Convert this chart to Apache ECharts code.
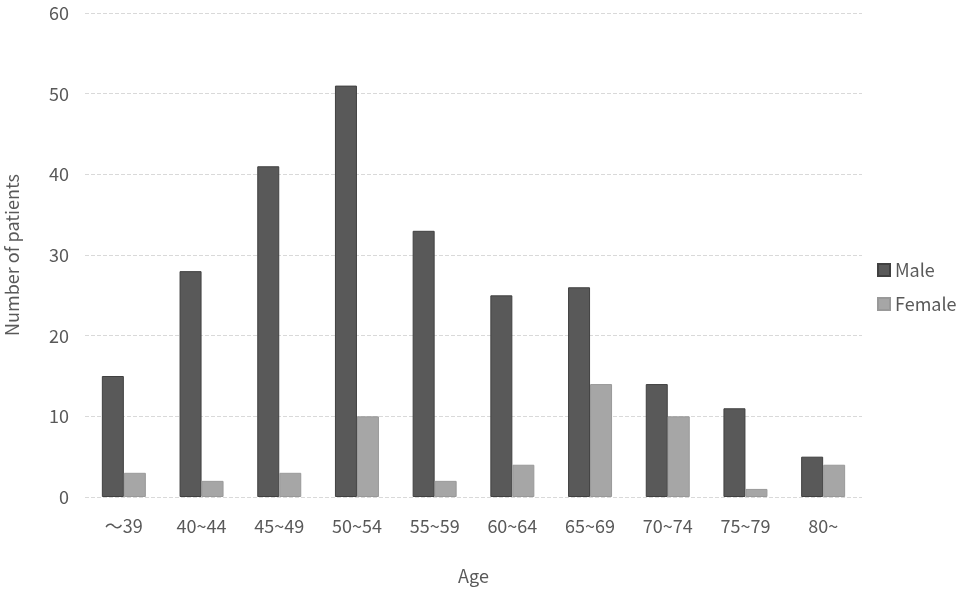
<!DOCTYPE html>
<html>
<head>
<meta charset="utf-8">
<script src="https://cdn.jsdelivr.net/npm/echarts@6/dist/echarts.min.js"></script>
<style>
  html,body{margin:0;padding:0;background:#fff;}
  #chart{width:968px;height:589px;}
</style>
</head>
<body>
<div id="chart"></div>
<script>
  var ageGroups = ['～39','40~44','45~49','50~54','55~59','60~64','65~69','70~74','75~79','80~'];
  var maleCounts = [15,28,41,51,33,25,26,14,11,5];
  var femaleCounts = [3,2,3,10,2,4,14,10,1,4];

  var font = '"Noto Sans CJK JP", "Noto Sans", sans-serif';
  var myChart = echarts.init(document.getElementById('chart'));
  var option = {
    backgroundColor: '#fff',
    textStyle: { fontFamily: font },
    legend: {
      orient: 'vertical',
      left: 872,
      top: 256,
      itemWidth: 12,
      itemHeight: 12,
      itemGap: 16,
      icon: 'rect',
      textStyle: { color: '#595959', fontSize: 18, fontFamily: font },
      data: ['Male','Female']
    },
    grid: { left: 85, right: 106, top: 13, bottom: 92, outerBoundsMode: 'none', containLabel: false },
    xAxis: {
      type: 'category',
      data: ageGroups,
      name: 'Age',
      nameLocation: 'middle',
      nameGap: 70,
      nameTextStyle: { color: '#595959', fontSize: 18, fontFamily: font },
      axisLine: { show: false },
      axisTick: { show: false },
      axisLabel: { color: '#595959', fontSize: 18, margin: 20, fontFamily: font }
    },
    yAxis: {
      type: 'value',
      min: 0,
      max: 60,
      interval: 10,
      name: 'Number of patients',
      nameLocation: 'middle',
      nameGap: 64,
      nameTextStyle: { color: '#595959', fontSize: 18, fontFamily: font },
      axisLine: { show: false },
      axisTick: { show: false },
      axisLabel: { color: '#595959', fontSize: 18, margin: 16, fontFamily: font },
      splitLine: { lineStyle: { color: '#d9d9d9', type: [4, 2], width: 1 } }
    },
    series: [
      {
        name: 'Male',
        type: 'bar',
        data: maleCounts,
        barWidth: 22,
        barGap: '0%',
        itemStyle: { color: '#595959', borderColor: '#404040', borderWidth: 1 }
      },
      {
        name: 'Female',
        type: 'bar',
        data: femaleCounts,
        barWidth: 22,
        barGap: '0%',
        itemStyle: { color: '#a6a6a6', borderColor: '#999', borderWidth: 1 }
      }
    ]
  };
  myChart.setOption(option);
</script>
</body>
</html>
